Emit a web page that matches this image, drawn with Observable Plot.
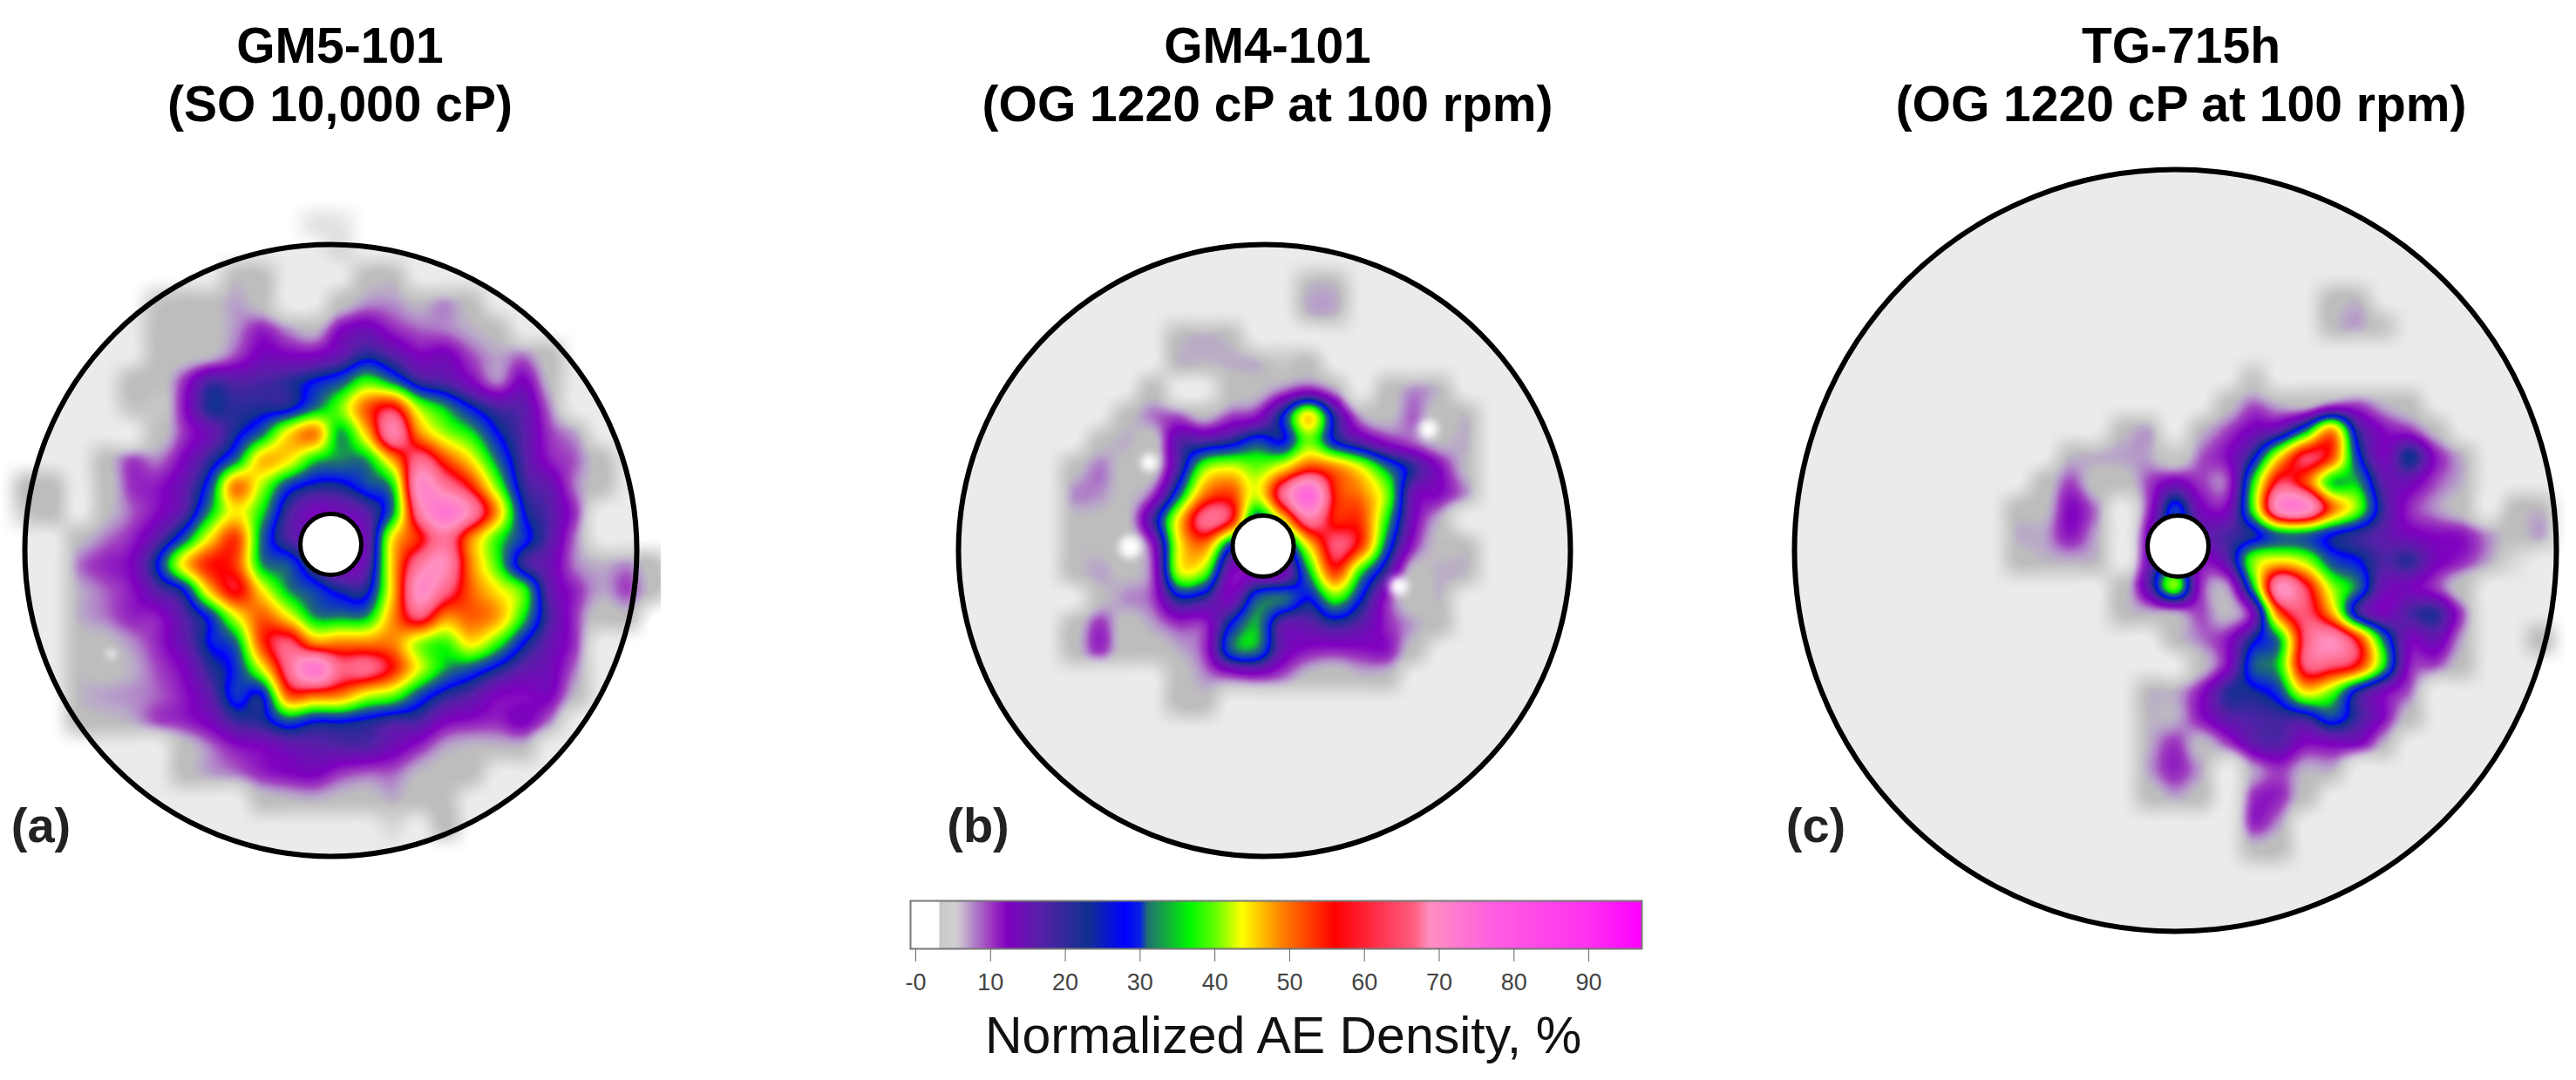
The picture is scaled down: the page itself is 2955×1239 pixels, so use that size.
<!DOCTYPE html>
<html><head><meta charset="utf-8">
<script src="https://cdn.jsdelivr.net/npm/d3@7"></script>
<script src="https://cdn.jsdelivr.net/npm/@observablehq/plot@0.6"></script>
<style>
html,body{margin:0;padding:0;background:#fff;width:2955px;height:1239px;overflow:hidden;font-family:"Liberation Sans",Arial,sans-serif}
#page{position:relative;width:2955px;height:1239px}
.t{position:absolute;transform:translate(-50%,-50%);text-align:center;white-space:nowrap;color:#000}
.h{font-weight:bold;font-size:57px;line-height:67px}
.l{font-weight:bold;font-size:56px;color:#222}
.p{position:absolute}
.spot{filter:blur(5px)}
</style></head><body><div id="page"></div>
<script>
const tickValues=[0,10,20,30,40,50,60,70,80,90];
const titles=[["GM5-101","(SO 10,000 cP)"],["GM4-101","(OG 1220 cP at 100 rpm)"],["TG-715h","(OG 1220 cP at 100 rpm)"]];
const panelTags=["(a)","(b)","(c)"];
const colorStops=[3.1,5.2,6.2,7.8,9.8,12.2,16.5,23,28,30,31,36.6,40,43.6,49,56,63.4,66.7,68.7,76.8,90,97];
const colorValues=["#c8c8c8","#d0d0d0","#c8b8d0","#b080c8","#a040c0","#8000c0","#5820a8","#103090","#0000ff","#0820e0","#207070","#00f800","#60ff00","#ffff00","#ff8000","#ff0000","#ff4060","#ff6080","#ff90c0","#ff60e0","#ff30f0","#ff00ff"];
const discLow=["#bdbdbd","#bdbdbd","#bcb6c2","#b8a6c8"];
// density grids (%)
const gridA=[
[0,0,0,0,0,0,0,0,0,0,0,1,1,0,0,0,0,0,0,0,0,0,0,0,0],
[0,0,0,0,0,0,0,0,0,0,0,0,1,0,0,0,0,0,0,0,0,0,0,0,0],
[0,0,0,0,0,0,0,0,5,3,0,0,0,4,5,0,0,0,0,0,0,0,0,0,0],
[0,0,0,0,0,2,5,4,8,4,0,0,4,9,9,6,9,4,0,0,0,0,0,0,0],
[0,0,0,0,0,4,4,4,9,14,9,6,16,19,14,11,10,7,4,0,0,0,0,0,0],
[0,0,0,0,0,3,4,6,12,18,17,17,21,27,23,17,18,12,8,10,3,0,0,0,0],
[0,0,0,0,4,3,13,24,23,24,26,30,34,42,36,26,23,17,10,17,6,0,0,0,0],
[0,0,0,0,2,2,15,27,26,27,28,36,44,58,64,46,38,30,24,22,10,0,0,0,0],
[0,0,0,0,0,3,13,20,28,36,50,56,38,52,74,56,46,40,30,23,13,8,0,0,0],
[0,0,0,4,12,10,17,26,36,52,50,40,37,38,54,70,60,50,36,24,15,11,3,0,0],
[4,5,0,3,13,15,21,33,56,46,33,28,28,33,40,78,72,62,44,26,21,10,3,0,0],
[2,3,0,5,11,16,23,38,50,40,25,18,19,23,37,72,84,74,54,30,23,13,0,0,0],
[0,0,5,10,14,22,34,50,60,36,24,20,18,20,50,62,72,56,42,32,23,10,0,0,0],
[0,0,10,14,17,30,50,62,60,38,34,24,17,22,52,72,76,56,42,26,20,10,7,9,3],
[0,0,7,11,15,23,30,52,64,50,38,33,28,28,52,78,70,58,50,42,22,14,8,12,4],
[0,0,7,10,14,15,23,32,48,58,50,38,37,38,55,68,56,58,54,40,24,13,3,5,0],
[0,0,4,5,9,14,21,30,36,60,68,56,56,56,56,46,42,50,42,30,21,13,0,0,0],
[0,0,5,4,7,12,17,26,32,48,70,84,70,70,62,48,38,34,28,22,19,10,0,0,0],
[0,0,6,8,9,11,15,22,32,30,58,58,56,48,44,34,27,23,17,16,17,6,0,0,0],
[0,0,4,5,7,12,14,18,25,27,34,30,30,28,25,24,17,15,14,17,10,0,0,0,0],
[0,0,0,0,0,0,4,10,15,17,20,22,23,23,19,14,8,6,6,6,0,0,0,0,0],
[0,0,0,0,0,0,4,8,10,14,16,17,13,11,11,6,4,4,0,0,0,0,0,0,0],
[0,0,0,0,0,0,0,0,0,4,6,7,5,4,7,3,5,0,0,0,0,0,0,0,0],
[0,0,0,0,0,0,0,0,0,0,0,0,0,0,1,0,4,0,0,0,0,0,0,0,0]];
const gridB=[
[0,0,0,0,0,0,0,0,0,6,6,0,0,0,0,0],
[0,0,0,0,0,0,0,0,0,7,7,0,0,0,0,0],
[0,0,0,0,5,7,5,0,0,0,0,0,0,0,0,0],
[0,0,0,0,6,6,7,7,2,3,0,0,0,0,0,0],
[0,0,0,3,0,0,3,5,10,14,8,0,3,9,6,0],
[0,0,4,10,11,6,12,15,30,50,26,8,5,11,3,6],
[0,4,7,4,22,24,27,33,30,44,30,22,15,11,6,7],
[4,10,4,4,24,44,48,44,50,60,56,48,36,26,16,6],
[9,9,5,12,34,56,60,48,70,88,62,56,44,20,16,9],
[5,5,5,24,50,70,64,34,50,72,62,60,40,18,7,0],
[5,5,3,14,48,56,32,24,26,50,68,60,34,14,5,5],
[4,8,5,12,46,44,18,17,18,38,60,40,24,5,7,6],
[0,5,9,12,28,26,18,34,36,30,42,30,14,3,6,0],
[3,13,4,8,13,14,30,38,22,22,26,22,14,8,3,0],
[4,13,3,3,7,13,34,36,20,15,14,15,15,4,0,0],
[0,0,0,0,3,9,12,14,11,5,3,6,5,0,0,0],
[0,0,0,0,4,4,0,0,0,0,0,0,0,0,0,0]];
const gridC=[
[0,0,0,0,0,0,0,0,0,0,0,0,3,6,0,0,0,0,0,0,0,0],
[0,0,0,0,0,0,0,0,0,0,0,0,5,8,2,0,0,0,0,0,0,0],
[0,0,0,0,0,0,0,0,0,0,0,0,0,0,0,0,0,0,0,0,0,0],
[0,0,0,0,0,0,0,0,0,2,0,0,0,0,0,0,0,0,0,0,0,0],
[0,0,0,0,0,0,0,0,4,11,7,5,11,12,7,3,0,0,0,0,0,0],
[0,0,0,0,5,8,0,6,12,18,22,36,54,26,16,13,5,0,0,0,0,0],
[0,0,6,7,8,8,2,11,16,28,50,66,60,32,18,28,15,7,0,0,0,0],
[0,3,12,4,3,12,18,13,12,40,66,60,40,38,22,19,12,7,0,0,0,0],
[4,5,16,10,0,13,32,18,17,42,78,80,58,44,25,14,9,4,0,4,6,0],
[7,8,15,8,0,18,30,22,24,28,36,36,30,26,22,18,16,15,9,4,8,0],
[3,6,7,6,0,20,30,16,22,44,50,46,34,30,24,26,18,14,8,1,0,0],
[0,0,0,0,3,22,44,14,9,38,76,66,46,36,20,18,13,4,0,0,0,0],
[0,0,0,0,5,7,8,12,6,18,58,68,54,27,18,24,26,12,0,0,0,0],
[0,0,0,0,0,0,5,10,15,28,38,68,76,62,36,18,20,8,0,0,4,0],
[0,0,0,0,0,0,0,5,16,34,40,68,68,62,40,15,12,4,0,0,0,0],
[0,0,0,0,0,6,7,15,26,28,33,50,44,28,18,11,0,0,0,0,0,0],
[0,0,0,0,0,6,7,15,22,24,25,26,33,25,16,4,0,0,0,0,0,0],
[0,0,0,0,0,7,13,6,12,21,23,16,17,17,7,0,0,0,0,0,0,0],
[0,0,0,0,0,8,14,8,0,8,13,7,7,0,0,0,0,0,0,0,0,0],
[0,0,0,0,0,3,8,4,0,13,14,4,0,0,0,0,0,0,0,0,0,0],
[0,0,0,0,0,0,0,0,0,14,9,0,0,0,0,0,0,0,0,0,0,0],
[0,0,0,0,0,0,0,0,0,5,3,0,0,0,0,0,0,0,0,0,0,0]];
const spotsA=[[-252,119,5]];
const spotsB=[[-132,-101,10],[188,-139,11],[-154,-4,13],[154,41,11]];
const spotsC=[];
const panels=[
 {grid:gridA,spots:spotsA,cx:379,cy:631,R:351,x0:-349,y0:-374,cell:30,hole:[0,-7],tagX:47,tagY:946,titleX:390},
 {grid:gridB,spots:spotsB,cx:1449.5,cy:631,R:351,x0:-219,y0:-305,cell:30,hole:[-1.5,-5],tagX:1122,tagY:946,titleX:1454},
 {grid:gridC,spots:spotsC,cx:2495,cy:630.5,R:437,x0:-181,y0:-288,cell:30,hole:[3,-5],tagX:2083,tagY:946,titleX:2502}
];
const kernel=(a,b,c,d,t)=>b+0.5*t*(c-a+t*(2*a-5*b+4*c-d+t*(3*(b-c)+d-a)));
const cubic=nx=>(index,w,h,X,Y,V)=>{
  const ny=V.length/nx,x0=X[0],dx=X[1]-X[0],y0=Y[0],dy=Y[nx]-Y[0],out=new Float64Array(w*h);
  const g=(i,j)=>(i<0||j<0||i>=nx||j>=ny)?0:V[j*nx+i];
  for(let r=0;r<h;r++){const gy=(r+.5-y0)/dy,j=Math.floor(gy),ty=gy-j;
    for(let c=0;c<w;c++){const gx=(c+.5-x0)/dx,i=Math.floor(gx),tx=gx-i;const q=[];
      for(let m=-1;m<3;m++)q.push(kernel(g(i-1,j+m),g(i,j+m),g(i+1,j+m),g(i+2,j+m),tx));
      out[r*w+c]=kernel(q[0],q[1],q[2],q[3],ty);}}
  return out;};
const page=document.getElementById("page");
const put=(node,l,t)=>{node.classList.add("p");node.style.left=l+"px";node.style.top=t+"px";page.append(node);};
const colorScale={type:"linear",domain:[0,...colorStops],range:[discLow[0],...discLow,...colorValues.slice(3)].slice(0,colorStops.length+1),clamp:true,interpolate:"rgb"};
panels.forEach((p,k)=>{
  const W=Math.min(p.cx,p.R+30),H=p.R+60,nx=p.grid[0].length,ny=p.grid.length;
  const cells=p.grid.flatMap((row,j)=>row.map((v,i)=>({x:p.x0+i*p.cell,y:p.y0+j*p.cell,v})));
  const pad=p.cell*1.5;
  const chart=Plot.plot({width:2*W,height:2*H,margin:0,x:{domain:[-W,W],axis:null},y:{domain:[H,-H],axis:null},color:colorScale,r:{type:"identity"},
    marks:[
      Plot.dot([[0,0]],{x:d=>d[0],y:d=>d[1],r:p.R,fill:"#ebebeb",stroke:"none"}),
      Plot.raster(cells,{x:"x",y:"y",fill:"v",fillOpacity:d=>Math.min(1,d.v/2.5),
        x1:p.x0-pad,x2:p.x0+(nx-1)*p.cell+pad,y1:p.y0-pad,y2:p.y0+(ny-1)*p.cell+pad,pixelSize:1,interpolate:cubic(nx)}),
      Plot.dot(p.spots,{x:d=>d[0],y:d=>d[1],r:d=>d[2],fill:"#fff",stroke:"none",className:"spot"}),
      Plot.dot([[0,0]],{x:d=>d[0],y:d=>d[1],r:p.R,fill:"none",stroke:"#000",strokeWidth:6}),
      Plot.dot([p.hole],{x:d=>d[0],y:d=>d[1],r:35,fill:"#fff",stroke:"#000",strokeWidth:5})
    ]});
  put(chart,p.cx-W,p.cy-H);
  const t=document.createElement("div");t.className="t h";t.style.left=p.titleX+"px";t.style.top="86px";
  t.innerHTML=titles[k].join("<br>");page.append(t);
  const l=document.createElement("div");l.className="t l";l.style.left=p.tagX+"px";l.style.top=p.tagY+"px";l.textContent=panelTags[k];page.append(l);
});
// legend
const legendMin=-0.7,legendMax=97.1;
const legend=Plot.plot({width:879,height:117,marginLeft:20,marginRight:20,marginTop:2,marginBottom:60,
  style:{fontFamily:"Liberation Sans"},
  x:{domain:[legendMin,legendMax],axis:null},y:{domain:[0,1],axis:null},
  color:{type:"linear",domain:[legendMin,3.09,...colorStops],range:["#fff","#fff",...colorValues],clamp:true,interpolate:"rgb"},
  marks:[
    Plot.raster({fill:(x,y)=>x,x1:legendMin,x2:legendMax,y1:0,y2:1,pixelSize:1}),
    Plot.frame({stroke:"#777",strokeWidth:2}),
    Plot.axisX({ticks:tickValues,tickFormat:d=>d===0?"-0":String(d),tickSize:15,tickPadding:13,fontSize:27,stroke:"#666",fill:"#444",label:null,anchor:"bottom"})
  ]});
put(legend,1024,1031);
const cap=document.createElement("div");cap.className="t";cap.style.cssText+="left:1472px;top:1188px;font-size:59px;color:#111";cap.textContent="Normalized AE Density, %";page.append(cap);
</script></body></html>
